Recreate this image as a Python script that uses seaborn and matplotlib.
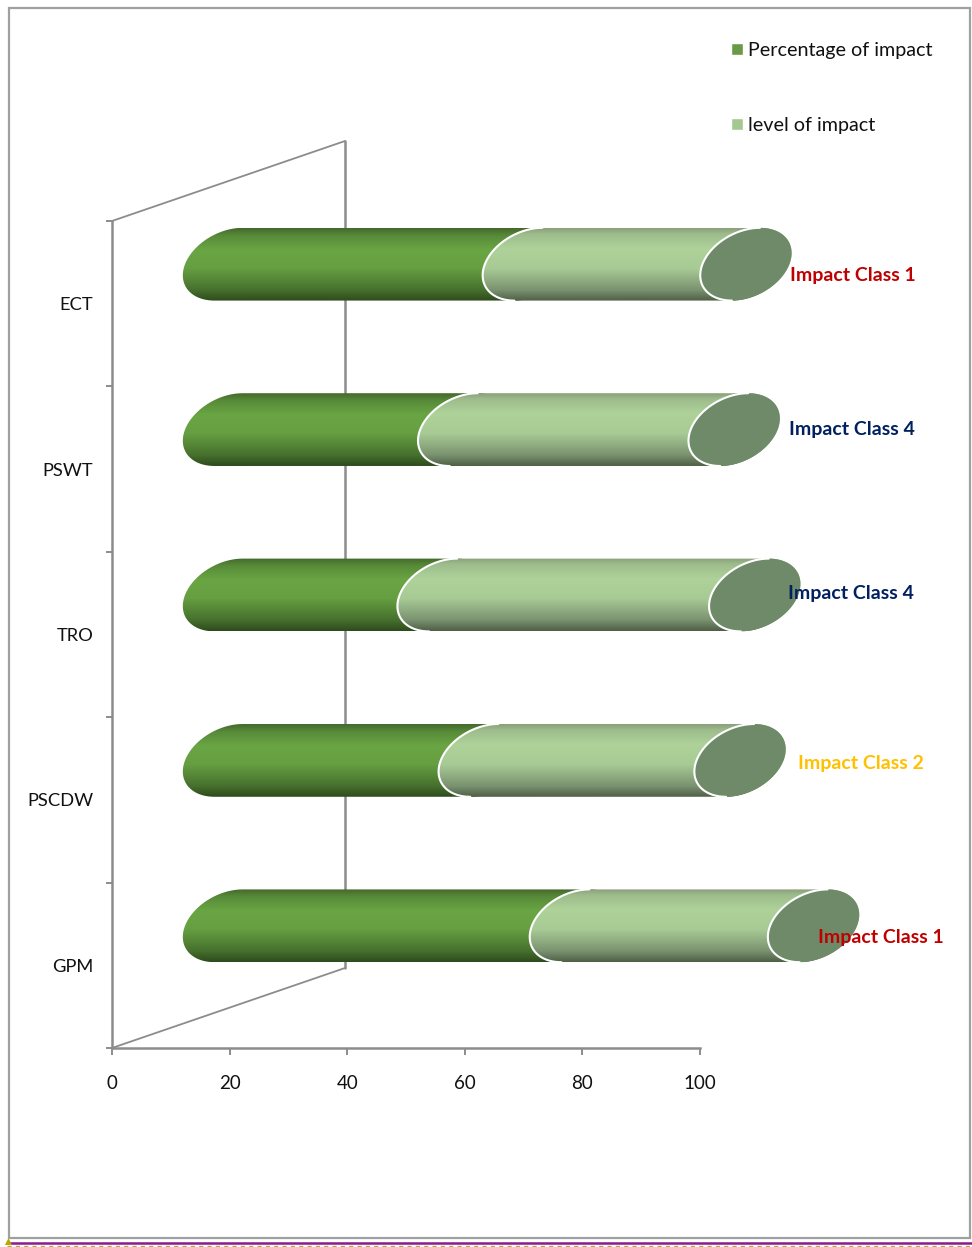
import numpy as np
import pandas as pd
import matplotlib.pyplot as plt
import seaborn as sns
from matplotlib.colors import LinearSegmentedColormap
from matplotlib.lines import Line2D
from matplotlib.patches import Patch, PathPatch, Polygon, Rectangle
from matplotlib.path import Path

techniques = ["ECT", "PSWT", "TRO", "PSCDW", "GPM"]
pct_impact = [51, 40, 36.5, 43.5, 59]
level_impact = [37, 46, 53, 43.5, 40.5]
class_labels = ["Impact Class 1", "Impact Class 4", "Impact Class 4", "Impact Class 2", "Impact Class 1"]
class_colors = ["#C00000", "#002060", "#002060", "#FFC000", "#C00000"]

W, H = 972, 1247
GREY = "#8C8C8C"

sns.set_theme(style="ticks")
plt.rcParams["font.family"] = ["Lato", "DejaVu Sans"]

df = pd.DataFrame({"tech": techniques, "pct": pct_impact, "level": level_impact})
df["total"] = df["pct"] + df["level"]

fig = plt.figure(figsize=(W / 100, H / 100), dpi=100, facecolor="white")
ax = fig.add_axes([112 / W, (H - 1048) / H, 588 / W, 827 / H])

# seaborn works out where the bars go, the cylinders get drawn on top of them
sns.barplot(data=df, y="tech", x="total", color="#AED29A", width=0.44, ax=ax, orient="h")
n_light = len(ax.patches)
sns.barplot(data=df, y="tech", x="pct", color="#6AA544", width=0.44, ax=ax, orient="h")
light_bars = list(ax.patches[:n_light])
green_bars = list(ax.patches[n_light:])

px_x = 588 / 100
px_y = 827 / 5
depth_x, depth_y = 233 / px_x, 80 / px_y
shift_x, shift_y = 116.5 / px_x, -39.5 / px_y
cap_a, cap_b = 43.5 / px_x, 14 / px_x

green_cmap = LinearSegmentedColormap.from_list(
    "g", [(0, "#44682B"), (0.1, "#578A38"), (0.3, "#6AA544"), (0.55, "#669F41"), (0.85, "#46702D"), (1, "#2E4A1D")])
light_cmap = LinearSegmentedColormap.from_list(
    "l", [(0, "#8A9F7C"), (0.08, "#9DBC8B"), (0.28, "#AED29A"), (0.55, "#A8CB95"), (0.85, "#7A9270"), (1, "#4E5F45")])
grad = np.linspace(0, 1, 256).reshape(-1, 1)


def half_ellipse(cx, cy, half_h, t0, t1):
    t = np.radians(np.linspace(t0, t1, 80))
    return np.column_stack([cx + cap_a * np.cos(t) + cap_b * np.sin(t), cy - half_h * np.sin(t)])


def draw_body(x0, x1, cy, half_h, cmap, z):
    left = half_ellipse(x0, cy, half_h, 90, 270)
    right = half_ellipse(x1, cy, half_h, 270, 450)
    path = Path(np.vstack([left, right, left[:1]]))
    im = ax.imshow(grad, cmap=cmap, aspect="auto", origin="upper", zorder=z,
                   extent=(x0 - 10, x1 + 10, cy + half_h, cy - half_h))
    im.set_clip_box(fig.bbox)
    im.set_clip_path(path, transform=ax.transData)


for i, (lb, gb) in enumerate(zip(light_bars, green_bars)):
    half_h = lb.get_height() / 2
    cy = lb.get_y() + half_h + shift_y
    start = gb.get_x() + shift_x
    mid = start + gb.get_width()
    end = start + lb.get_width()
    lb.set_visible(False)
    gb.set_visible(False)

    z = 5 + i * 3
    draw_body(start, mid, cy, half_h, green_cmap, z)
    draw_body(mid, end, cy, half_h, light_cmap, z + 1)
    ax.plot(*half_ellipse(mid, cy, half_h, 90, 270).T, color="white", lw=1.5, zorder=z + 1.5, clip_on=False)

    rim = np.vstack([half_ellipse(end, cy, half_h, 90, 270), half_ellipse(end, cy, half_h, 270, 450)])
    ax.add_patch(PathPatch(Path(rim), facecolor="#6E8A68", edgecolor="none", zorder=z + 2, clip_on=False))
    ax.plot(*half_ellipse(end, cy, half_h, 90, 270).T, color="white", lw=1.5, zorder=z + 2.5, clip_on=False)

# back wall of the 3d box
ax.plot([0, depth_x], [-0.5, -0.5 - depth_y], color=GREY, lw=1.3, zorder=1, clip_on=False)
ax.plot([depth_x, depth_x], [-0.5 - depth_y, 4.5 - depth_y], color=GREY, lw=1.8, zorder=1, clip_on=False)
ax.plot([depth_x, 0], [4.5 - depth_y, 4.5], color=GREY, lw=1.3, zorder=1, clip_on=False)

ax.set_xlim(0, 100)
ax.set_ylim(4.5, -0.5)
ax.set_xlabel("")
ax.set_ylabel("")
sns.despine(ax=ax)
for side in ["left", "bottom"]:
    ax.spines[side].set_color(GREY)
    ax.spines[side].set_linewidth(1.8)
ax.set_xticks(range(0, 101, 20))
ax.set_yticks(np.arange(-0.5, 5), minor=True)
ax.tick_params(axis="x", length=5, width=1.4, color=GREY, labelsize=13.5, labelcolor="#111111", pad=14.5)
ax.tick_params(axis="y", which="major", length=0, labelsize=13.2, labelcolor="#111111", pad=13.5)
ax.tick_params(axis="y", which="minor", length=4, width=1.4, color=GREY)

label_px = [(790, 275), (789, 429), (788, 594), (798, 763), (818, 937)]
for text, color, (px, py) in zip(class_labels, class_colors, label_px):
    fig.text(px / W, 1 - py / H, text, color=color, fontsize=14, fontweight="bold", ha="left", va="center", zorder=50)

handles = [Patch(facecolor="#6A9A45", label="Percentage of impact"), Patch(facecolor="#A5C893", label="level of impact")]
fig.legend(handles=handles, loc="upper left", bbox_to_anchor=(731 / W, 1 - 42 / H), frameon=False,
           fontsize=14.2, handlelength=0.6, handleheight=0.6, handletextpad=0.25, labelspacing=2.93,
           labelcolor="#111111", borderpad=0, borderaxespad=0)

# page frame and the marks below it
fig.add_artist(Rectangle((9 / W, 1 - 1238 / H), 961 / W, 1230 / H, transform=fig.transFigure,
                         facecolor="none", edgecolor="#A0A0A0", lw=1.6))
fig.add_artist(Line2D([7 / W, 1], [1 - 1243 / H] * 2, color="#8B1A8B", lw=1.8))
fig.add_artist(Line2D([7 / W, 1], [1 - 1245.5 / H] * 2, color="#B8A83C", lw=1, ls=(0, (3, 3))))
fig.add_artist(Polygon([(5 / W, 1 - 1245 / H), (12 / W, 1 - 1245 / H), (8.5 / W, 1 - 1238 / H)],
                       transform=fig.transFigure, facecolor="#B8A800", edgecolor="none", zorder=3))

fig.savefig("out.png", dpi=100)
